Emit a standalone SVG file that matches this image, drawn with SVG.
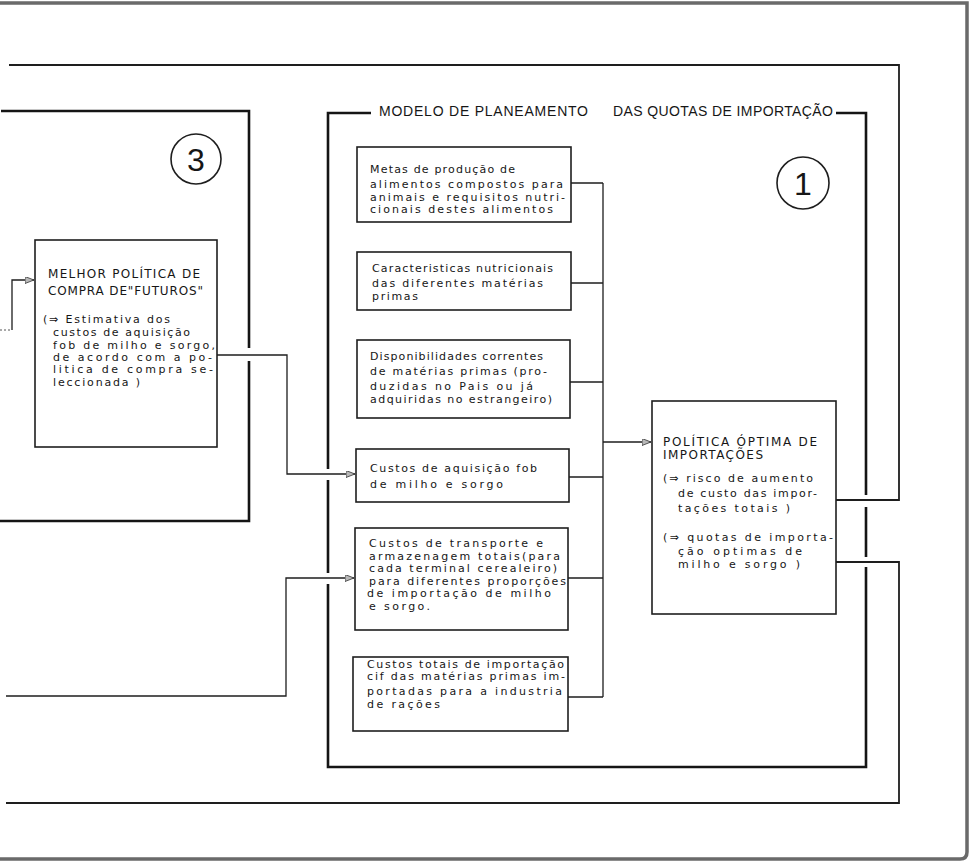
<svg xmlns="http://www.w3.org/2000/svg" width="971" height="862" viewBox="0 0 971 862">
<style>
.bg{fill:#ffffff}
.page{fill:none;stroke:#6a6a6a;stroke-width:3.5}
.frame{fill:none;stroke:#151515;stroke-width:2.6}
.outer{fill:none;stroke:#1e1e1e;stroke-width:1.8}
.box{fill:#ffffff;stroke:#1e1e1e;stroke-width:1.6}
.conn{fill:none;stroke:#1e1e1e;stroke-width:1.3}
.faint{fill:none;stroke:#555;stroke-width:1;stroke-dasharray:2 2}
.t{font-family:"DejaVu Sans","Liberation Sans",sans-serif;font-size:11px;fill:#161616}
.cap{font-family:"DejaVu Sans","Liberation Sans",sans-serif;font-size:12px;fill:#161616}
.head{font-family:"Liberation Sans","DejaVu Sans",sans-serif;font-size:14px;fill:#161616}
.num{font-family:"Liberation Sans","DejaVu Sans",sans-serif;font-size:32px;fill:#161616;text-anchor:middle}
.ring{fill:none;stroke:#1e1e1e;stroke-width:1.6}
</style>
<defs>
<marker id="arr" markerUnits="userSpaceOnUse" markerWidth="10" markerHeight="8" refX="9" refY="3.5" orient="auto">
<path d="M0,0 L9,3.5 L0,7 Z" fill="#b8b8b8" stroke="#333" stroke-width="0.8"/>
</marker>
</defs>
<rect class="bg" x="0" y="0" width="971" height="862"/>

<g id="page-border">
<path class="page" d="M0,3 H967 V852 Q967,859 960,859 H0"/>
</g>

<g id="frames">
<path id="frame-3" class="frame" d="M1,111 H249 V348 M249,361 V521 H0"/>
<path id="frame-modelo" class="frame" d="M371,113 H328 V469 M328,480 V573 M328,584 V767 H866 V567 M866,557 V507 M866,495 V113 H836"/>
<text class="head" x="379" y="116" textLength="209">MODELO  DE  PLANEAMENTO</text>
<text class="head" x="613" y="116" textLength="220">DAS QUOTAS DE IMPORTAÇÃO</text>
</g>

<g id="labels">
<g id="label-3"><circle class="ring" cx="196" cy="159" r="25"/><text class="num" x="196" y="171">3</text></g>
<g id="label-1"><circle class="ring" cx="803" cy="183" r="26"/><text class="num" x="803" y="195">1</text></g>
</g>

<g id="connectors">
<path class="faint" d="M0,330 H12"/>
<path class="conn" d="M12,330 V280 H34" marker-end="url(#arr)"/>
<path class="conn" d="M217,355 H287 V474 H355" marker-end="url(#arr)"/>
<path class="conn" d="M6,696 H286 V578 H354" marker-end="url(#arr)"/>
<path class="conn" d="M571,183 H603 M571,283 H603 M570,382 H603 M569,477 H603 M568,578 H603 M568,697 H603 M603,183 V697"/>
<path class="conn" d="M603,442 H651" marker-end="url(#arr)"/>
<path class="outer" d="M836,500 H899 V65 H9"/>
<path class="outer" d="M836,562 H899 V803 H6"/>
</g>

<g id="node-futuros">
<rect class="box" x="35" y="240" width="182" height="207"/>
<text class="cap" x="48" y="278" textLength="152">MELHOR POLÍTICA DE</text>
<text class="cap" x="48" y="295" textLength="155">COMPRA DE"FUTUROS"</text>
<text class="t" x="43" y="323" textLength="127">(⇒ Estimativa dos</text>
<text class="t" x="53" y="336" textLength="137">custos de aquisição</text>
<text class="t" x="53" y="349" textLength="162">fob de milho e sorgo,</text>
<text class="t" x="53" y="361" textLength="159">de acordo com a po-</text>
<text class="t" x="53" y="373" textLength="160">litica de compra se-</text>
<text class="t" x="53" y="386" textLength="87">leccionada )</text>
</g>

<g id="node-metas">
<rect class="box" x="357" y="147" width="214" height="75"/>
<text class="t" x="370" y="173" textLength="145">Metas de produção de</text>
<text class="t" x="370" y="188" textLength="193">alimentos compostos para</text>
<text class="t" x="370" y="201" textLength="195">animais e requisitos nutri-</text>
<text class="t" x="370" y="213" textLength="183">cionais destes alimentos</text>
</g>

<g id="node-caracteristicas">
<rect class="box" x="357" y="252" width="214" height="58"/>
<text class="t" x="372" y="272" textLength="181">Caracteristicas nutricionais</text>
<text class="t" x="372" y="287" textLength="171">das diferentes matérias</text>
<text class="t" x="372" y="300" textLength="46">primas</text>
</g>

<g id="node-disponibilidades">
<rect class="box" x="357" y="340" width="213" height="78"/>
<text class="t" x="370" y="360" textLength="173">Disponibilidades correntes</text>
<text class="t" x="370" y="375" textLength="177">de matérias primas (pro-</text>
<text class="t" x="370" y="390" textLength="163">duzidas no Pais ou já</text>
<text class="t" x="370" y="403" textLength="182">adquiridas no estrangeiro)</text>
</g>

<g id="node-aquisicao">
<rect class="box" x="356" y="449" width="213" height="53"/>
<text class="t" x="370" y="472" textLength="167">Custos de aquisição  fob</text>
<text class="t" x="370" y="488" textLength="133">de milho e sorgo</text>
</g>

<g id="node-transporte">
<rect class="box" x="355" y="528" width="213" height="102"/>
<text class="t" x="369" y="547" textLength="174">Custos de transporte e</text>
<text class="t" x="369" y="560" textLength="191">armazenagem totais(para</text>
<text class="t" x="369" y="572" textLength="188">cada terminal cerealeiro)</text>
<text class="t" x="369" y="585" textLength="197">para diferentes proporções</text>
<text class="t" x="367" y="597" textLength="184">de importação de milho</text>
<text class="t" x="369" y="610" textLength="61">e sorgo.</text>
</g>

<g id="node-totais">
<rect class="box" x="353" y="657" width="215" height="74"/>
<text class="t" x="367" y="668" textLength="197">Custos totais de importação</text>
<text class="t" x="367" y="680" textLength="198">cif das matérias primas im-</text>
<text class="t" x="367" y="695" textLength="195">portadas para a industria</text>
<text class="t" x="367" y="708" textLength="73">de rações</text>
</g>

<g id="node-politica">
<rect class="box" x="652" y="401" width="184" height="213"/>
<text class="cap" x="663" y="446" textLength="154">POLÍTICA ÓPTIMA  DE</text>
<text class="cap" x="663" y="459" textLength="100">IMPORTAÇÕES</text>
<text class="t" x="663" y="482" textLength="150">(⇒ risco de aumento</text>
<text class="t" x="678" y="497" textLength="139">de custo das impor-</text>
<text class="t" x="678" y="512" textLength="112">tações totais )</text>
<text class="t" x="663" y="541" textLength="170">(⇒ quotas de importa-</text>
<text class="t" x="678" y="555" textLength="124">ção optimas de</text>
<text class="t" x="678" y="568" textLength="122">milho e sorgo )</text>
</g>
</svg>
